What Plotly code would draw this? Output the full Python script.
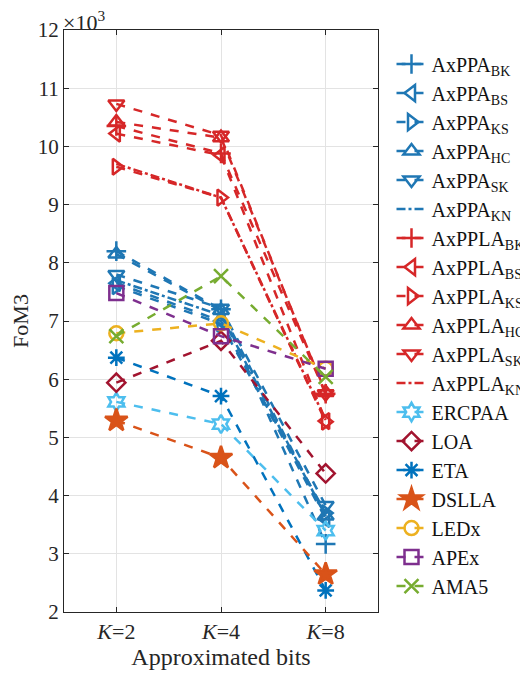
import plotly.graph_objects as go

categories = ["<i>K</i>=2", "<i>K</i>=4", "<i>K</i>=8"]

# values in units of 10^3
axppa_bk = [8.20, 7.20, 3.17]
axppa_bs = [7.65, 7.00, 3.60]
axppa_ks = [7.60, 6.95, 3.70]
axppa_hc = [8.15, 7.18, 3.65]
axppa_sk = [7.80, 7.22, 3.83]
axppa_kn = [7.70, 7.10, 3.65]

axppla_bk = [10.35, 9.88, 5.75]
axppla_bs = [10.22, 9.85, 5.28]
axppla_ks = [9.65, 9.12, 5.27]
axppla_hc = [10.42, 10.15, 5.77]
axppla_sk = [10.73, 10.19, 5.75]
axppla_kn = [9.70, 9.12, 5.30]

ercpaa = [5.61, 5.23, 3.40]
loa = [5.94, 6.66, 4.38]
eta = [6.37, 5.71, 2.37]
dslla = [5.29, 4.65, 2.65]
ledx = [6.79, 6.96, 6.18]
apex = [7.48, 6.74, 6.18]
ama5 = [6.74, 7.77, 6.04]

BLUE = "#1F77B4"
RED = "#D62728"

series = [
    ("AxPPA<sub>BK</sub>", axppa_bk, BLUE, "cross-thin-open", "dash"),
    ("AxPPA<sub>BS</sub>", axppa_bs, BLUE, "triangle-left-open", "dash"),
    ("AxPPA<sub>KS</sub>", axppa_ks, BLUE, "triangle-right-open", "dash"),
    ("AxPPA<sub>HC</sub>", axppa_hc, BLUE, "triangle-up-open", "dash"),
    ("AxPPA<sub>SK</sub>", axppa_sk, BLUE, "triangle-down-open", "dash"),
    ("AxPPA<sub>KN</sub>", axppa_kn, BLUE, None, "dashdot"),
    ("AxPPLA<sub>BK</sub>", axppla_bk, RED, "cross-thin-open", "dash"),
    ("AxPPLA<sub>BS</sub>", axppla_bs, RED, "triangle-left-open", "dash"),
    ("AxPPLA<sub>KS</sub>", axppla_ks, RED, "triangle-right-open", "dash"),
    ("AxPPLA<sub>HC</sub>", axppla_hc, RED, "triangle-up-open", "dash"),
    ("AxPPLA<sub>SK</sub>", axppla_sk, RED, "triangle-down-open", "dash"),
    ("AxPPLA<sub>KN</sub>", axppla_kn, RED, None, "dashdot"),
    ("ERCPAA", ercpaa, "#4DBEEE", "hexagram-open", "dash"),
    ("LOA", loa, "#A2142F", "diamond-open", "dash"),
    ("ETA", eta, "#0072BD", "asterisk-open", "dash"),
    ("DSLLA", dslla, "#D95319", "star", "dash"),
    ("LEDx", ledx, "#EDB120", "circle-open", "dash"),
    ("APEx", apex, "#7E2F8E", "square-open", "dash"),
    ("AMA5", ama5, "#77AC30", "x-thin-open", "dash"),
]

fig = go.Figure()
for name, vals, color, sym, dash in series:
    if sym is None:
        mode = "lines"
        marker = None
    else:
        mode = "lines+markers"
        marker = dict(symbol=sym, size=14 if sym != "star" else 17, color=color,
                      line=dict(color=color, width=2.5))
    fig.add_trace(go.Scatter(
        x=categories, y=vals, name=name, mode=mode,
        line=dict(color=color, width=2.5, dash=dash),
        marker=marker,
    ))

font_family = "Liberation Serif, Times New Roman, serif"
fig.update_layout(
    width=520, height=665,
    margin=dict(l=56, r=150, t=22, b=61, autoexpand=False),
    paper_bgcolor="white", plot_bgcolor="white",
    font=dict(family=font_family, size=21, color="#262626"),
    showlegend=True,
    legend=dict(x=1.043, y=0.975, xanchor="left", yanchor="top",
                bgcolor="rgba(0,0,0,0)", font=dict(size=20, color="#111111"),
                tracegroupgap=0, itemwidth=30),
    annotations=[dict(text="×10<sup>3</sup>", xref="paper", yref="paper",
                      x=-0.01, y=1.0, xanchor="left", yanchor="bottom",
                      yshift=-7,
                      showarrow=False, font=dict(size=22, color="#262626"))],
)
fig.update_xaxes(
    type="category", range=[-0.5, 2.5], automargin=False,
    showgrid=True, gridcolor="#E3E3E3", gridwidth=1,
    showline=True, linecolor="#262626", linewidth=1, mirror="ticks",
    ticks="inside", ticklen=5, tickcolor="#262626",
    tickfont=dict(size=22),
    title=dict(text="Approximated bits", font=dict(size=24), standoff=2),
    zeroline=False,
)
fig.update_yaxes(
    range=[2, 12], dtick=1, tick0=2, automargin=False,
    showgrid=True, gridcolor="#E3E3E3", gridwidth=1,
    showline=True, linecolor="#262626", linewidth=1, mirror="ticks",
    ticks="inside", ticklen=5, tickcolor="#262626",
    tickfont=dict(size=21),
    title=dict(text="FoM3", font=dict(size=22), standoff=8),
    zeroline=False,
)

fig.write_html("out.html")
